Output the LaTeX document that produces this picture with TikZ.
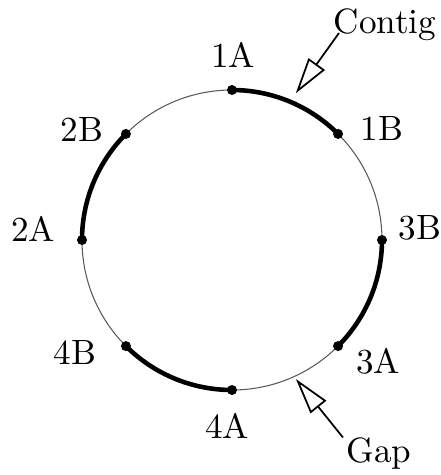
\documentclass[tikz,border=0pt]{standalone}
\usepackage{amsfonts, amsmath, amssymb}
\usepackage{tikz}
\usetikzlibrary{arrows.meta}

\tikzset{
  endpt/.style = {circle, fill, inner sep=0pt, minimum size=0.1cm},
  lbl/.style = {inner sep=0pt},
  pointer/.style = {line width=0.5pt, -{Triangle[open, length=0.36cm, width=0.2cm]}}
}

\begin{document}
\begin{tikzpicture}
\useasboundingbox (-2.32,-2.35) rectangle (2.09,2.40);
% the whole circle, thin
\draw[line width=0.3pt, black!65] (0,0) circle (1.5);
% contigs, thick
\draw[line width=1.3pt] (90:1.5) arc (90:45:1.5);
\draw[line width=1.3pt] (0:1.5) arc (0:-45:1.5);
\draw[line width=1.3pt] (-90:1.5) arc (-90:-135:1.5);
\draw[line width=1.3pt] (180:1.5) arc (180:135:1.5);
% ends
\node[endpt] (p1a) at (90:1.5) {};
\node[endpt] (p1b) at (45:1.5) {};
\node[endpt] (p3b) at (0:1.5) {};
\node[endpt] (p3a) at (-45:1.5) {};
\node[endpt] (p4a) at (-90:1.5) {};
\node[endpt] (p4b) at (-135:1.5) {};
\node[endpt] (p2a) at (180:1.5) {};
\node[endpt] (p2b) at (135:1.5) {};
\node[lbl] (l1a) at (0.01,1.85) {1A};
\node[lbl] (l1b) at (1.50,1.12) {1B};
\node[lbl] (l3b) at (1.88,0.12) {3B};
\node[lbl] (l3a) at (1.46,-1.21) {3A};
\node[lbl] (l4a) at (-0.05,-1.86) {4A};
\node[lbl] (l4b) at (-1.57,-1.12) {4B};
\node[lbl] (l2a) at (-1.99,0.11) {2A};
\node[lbl] (l2b) at (-1.50,1.11) {2B};
% pointers
\node[lbl, anchor=base west] (contig) at (1.01,2.07) {Contig};
\node[lbl, anchor=base west] (gap) at (1.14,-2.23) {Gap};
\coordinate (contigtip) at (66.5:1.6);
\coordinate (gaptip) at (-65.3:1.53);
\draw[pointer] ([xshift=0.06cm]contig.base west) -- (contigtip);
\draw[pointer] ([xshift=-0.03cm]gap.north west) -- (gaptip);
\end{tikzpicture}
\end{document}
